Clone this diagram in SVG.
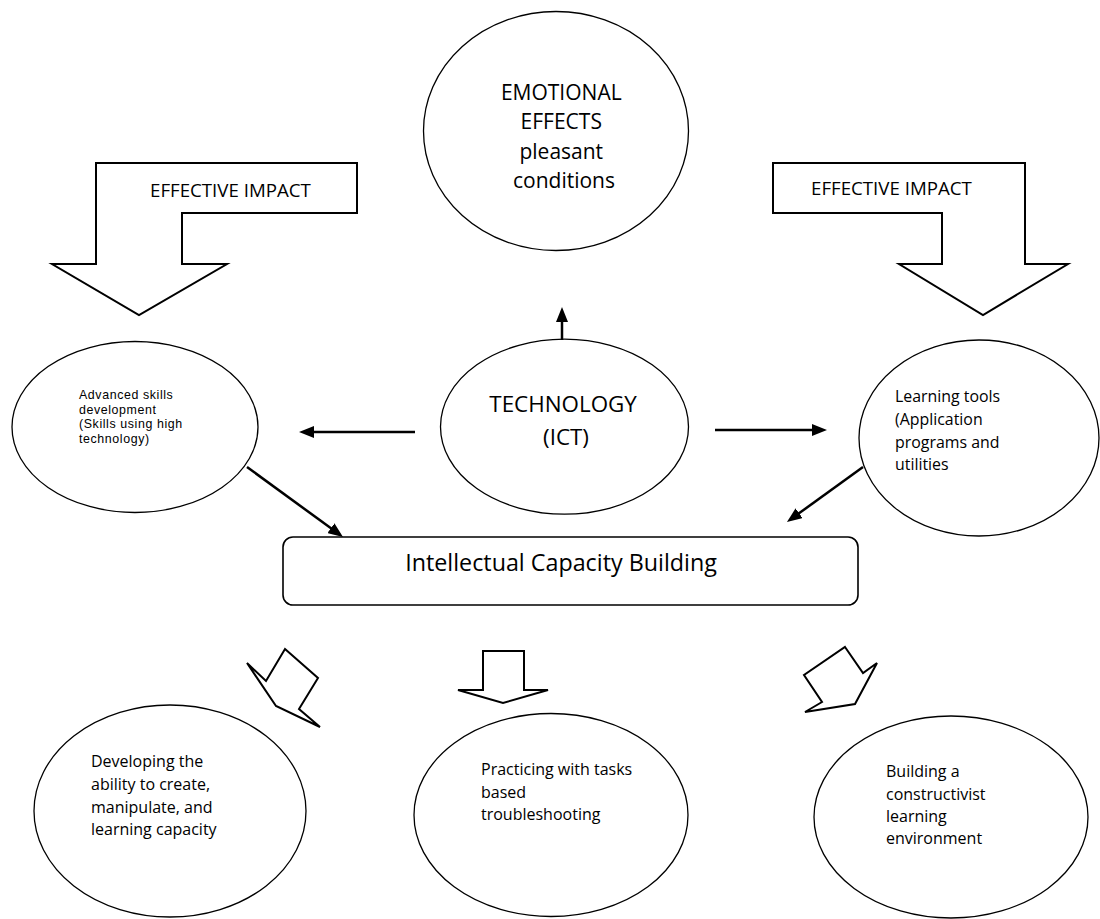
<svg xmlns="http://www.w3.org/2000/svg" width="1100" height="919" viewBox="0 0 1100 919">
<style>
  .bg{fill:#ffffff}
  .node{fill:#ffffff;stroke:#000000;stroke-width:1.3}
  .block{fill:#ffffff;stroke:#000000;stroke-width:2;stroke-linejoin:miter}
  .t{font-family:"Open Sans","Liberation Sans",sans-serif;fill:#000000}
  .ts{font-family:"Liberation Sans",Arial,sans-serif;fill:#000000}
  .conn{stroke:#000000;stroke-width:2.5;fill:none}
</style>
<defs>
  <marker id="ah" viewBox="0 0 15 12" refX="1" refY="6" markerWidth="15" markerHeight="12" markerUnits="userSpaceOnUse" orient="auto">
    <path d="M0,0 L15,6 L0,12 z" fill="#000000"/>
  </marker>
</defs>
<rect class="bg" x="0" y="0" width="1100" height="919"/>

<g id="impact-left">
  <polygon class="block" points="96,163 357,163 357,213 182,213 182,264 227,264 139,315 52,264 96,264"/>
  <text class="t" x="150" y="197" font-size="18.7">EFFECTIVE IMPACT</text>
</g>

<g id="impact-right">
  <polygon class="block" points="773,163 1025,163 1025,264 1068,264 983,315 899,264 942,264 942,213 773,213"/>
  <text class="t" x="811" y="195" font-size="18.7">EFFECTIVE IMPACT</text>
</g>

<g id="emotional">
  <ellipse class="node" cx="556" cy="131" rx="132.5" ry="119.5"/>
  <text class="t" font-size="21" text-anchor="middle">
    <tspan x="564" y="100">EMOTIONAL</tspan>
    <tspan x="564" y="129">EFFECTS</tspan>
    <tspan x="564" y="159">pleasant</tspan>
    <tspan x="564" y="188">conditions</tspan>
  </text>
</g>

<g id="advanced">
  <ellipse class="node" cx="135" cy="427" rx="123" ry="85.5"/>
  <text class="ts" font-size="12.4" letter-spacing="0.6">
    <tspan x="79" y="399">Advanced skills</tspan>
    <tspan x="79" y="413.5">development</tspan>
    <tspan x="79" y="428">(Skills using high</tspan>
    <tspan x="79" y="442.5">technology)</tspan>
  </text>
</g>

<g id="technology">
  <ellipse class="node" cx="564.5" cy="426.7" rx="124" ry="87.5"/>
  <text class="t" font-size="22.4" text-anchor="middle">
    <tspan x="566" y="411.7">TECHNOLOGY</tspan>
    <tspan x="566" y="445">(ICT)</tspan>
  </text>
</g>

<g id="learning-tools">
  <ellipse class="node" cx="979" cy="438" rx="120" ry="98"/>
  <text class="t" font-size="15.9">
    <tspan x="895" y="402">Learning tools</tspan>
    <tspan x="895" y="425">(Application</tspan>
    <tspan x="895" y="448">programs and</tspan>
    <tspan x="895" y="470">utilities</tspan>
  </text>
</g>

<g id="capacity">
  <rect class="node" x="283" y="537" width="575" height="68" rx="10" ry="10" style="stroke-width:1.6"/>
  <text class="t" x="561" y="571" font-size="23.3" text-anchor="middle">Intellectual Capacity Building</text>
</g>

<g id="down-left-arrow">
  <polygon class="block" points="285,649 318,678 299,709 320,727 276,706 247,663 266,681"/>
</g>
<g id="down-arrow">
  <polygon class="block" points="483,651 524,651 524,690 548,690 503,703 458,690 483,690"/>
</g>
<g id="down-right-arrow">
  <polygon class="block" points="845,647 863,673 877,663 855,704 805,712 822,702 804,675"/>
</g>

<g id="developing">
  <ellipse class="node" cx="170" cy="811" rx="136" ry="106"/>
  <text class="t" font-size="16">
    <tspan x="91" y="767">Developing the</tspan>
    <tspan x="91" y="790">ability to create,</tspan>
    <tspan x="91" y="812.5">manipulate, and</tspan>
    <tspan x="91" y="835">learning capacity</tspan>
  </text>
</g>

<g id="practicing">
  <ellipse class="node" cx="551" cy="815" rx="137" ry="101.5"/>
  <text class="t" font-size="16">
    <tspan x="481" y="775">Practicing with tasks</tspan>
    <tspan x="481" y="797.5">based</tspan>
    <tspan x="481" y="820">troubleshooting</tspan>
  </text>
</g>

<g id="constructivist">
  <ellipse class="node" cx="951" cy="817" rx="137" ry="101"/>
  <text class="t" font-size="16">
    <tspan x="886" y="777">Building a</tspan>
    <tspan x="886" y="799.5">constructivist</tspan>
    <tspan x="886" y="822">learning</tspan>
    <tspan x="886" y="844">environment</tspan>
  </text>
</g>

<g id="connectors">
  <line class="conn" x1="562" y1="340" x2="562" y2="321" marker-end="url(#ah)"/>
  <line class="conn" x1="415" y1="432" x2="313" y2="432" marker-end="url(#ah)"/>
  <line class="conn" x1="715" y1="430" x2="813" y2="430" marker-end="url(#ah)"/>
  <line class="conn" x1="247" y1="467" x2="331.7" y2="528.8" marker-end="url(#ah)"/>
  <line class="conn" x1="863" y1="467" x2="798.3" y2="513.8" marker-end="url(#ah)"/>
</g>
</svg>
